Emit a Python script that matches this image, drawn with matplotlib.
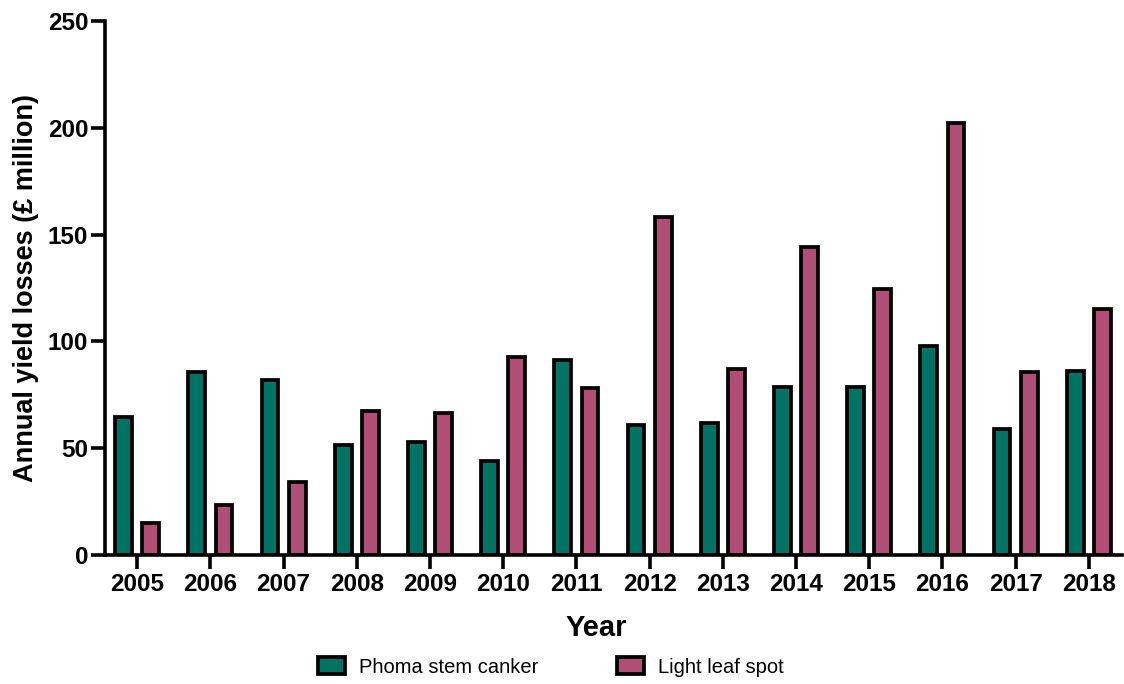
import numpy as np
import matplotlib
matplotlib.use("Agg")
import matplotlib.pyplot as plt
from matplotlib.patches import Patch

plt.rcParams['font.family'] = ['Liberation Sans', 'DejaVu Sans']

years = ['2005', '2006', '2007', '2008', '2009', '2010', '2011',
         '2012', '2013', '2014', '2015', '2016', '2017', '2018']
phoma = [64.5, 85.8, 82, 51.7, 53, 43.8, 91.4, 61, 62, 78.5, 78.7, 97.7, 58.8, 86]
light_leaf = [15, 23.6, 34, 67.3, 66.3, 92.5, 78.2, 158.3, 87.2, 144, 124.6, 202.4, 85.6, 115]

green = '#007364'
pink = '#B04E76'

fig = plt.figure(figsize=(11.24, 6.84), dpi=100)
ax = fig.add_axes([0.0934, 0.1886, 0.9046, 0.7807])

x = np.arange(len(years))
w = 0.23
off = 0.185
ax.bar(x - off, phoma, width=w, color=green, edgecolor='black', linewidth=2.7, zorder=3)
ax.bar(x + off, light_leaf, width=w, color=pink, edgecolor='black', linewidth=2.7, zorder=3)

ax.set_xlim(-0.44, 13.45)
ax.set_ylim(0, 250)
ax.set_yticks([0, 50, 100, 150, 200, 250])
ax.set_xticks(x)
ax.set_xticklabels(years)

for s in ['top', 'right']:
    ax.spines[s].set_visible(False)
for s in ['left', 'bottom']:
    ax.spines[s].set_linewidth(2.6)
    ax.spines[s].set_zorder(4)

ax.tick_params(axis='both', length=10, width=2.6, labelsize=17.5, direction='out')
ax.tick_params(axis='x', pad=3)
ax.tick_params(axis='y', pad=2)
for lbl in ax.get_xticklabels() + ax.get_yticklabels():
    lbl.set_fontweight('bold')

ax.set_xlabel('Year', fontsize=21, fontweight='bold', labelpad=4)
ax.xaxis.set_label_coords(0.483, -0.11)
ax.set_ylabel('Annual yield losses (£ million)', fontsize=19.5, fontweight='bold', labelpad=6)

handles = [Patch(facecolor=green, edgecolor='black', linewidth=2.7, label='Phoma stem canker'),
           Patch(facecolor=pink, edgecolor='black', linewidth=2.7, label='Light leaf spot')]
fig.legend(handles=handles, loc='center', bbox_to_anchor=(0.49, 0.025), ncol=2,
           frameon=False, fontsize=14.5, handlelength=1.35, handleheight=0.9,
           columnspacing=3.9, handletextpad=0.7)

fig.savefig('out.png', dpi=100)
